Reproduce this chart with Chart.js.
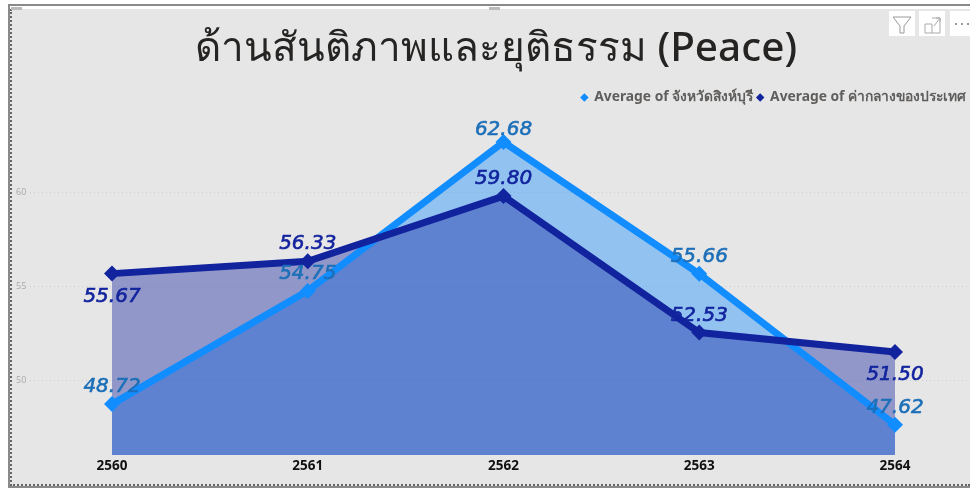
<!DOCTYPE html>
<html>
<head>
<meta charset="utf-8">
<script src="https://cdn.jsdelivr.net/npm/chart.js@4"></script>
<style>
  html, body { margin: 0; padding: 0; background: #fff; overflow: hidden; }
  #frame { position: absolute; left: 8px; top: 4px; width: 962px; height: 484px; box-sizing: border-box;
           border-top: 2px solid #8a8a8a; border-left: 2px solid #8a8a8a; border-bottom: 2px solid #8a8a8a; }
  #panel { position: absolute; left: 10px; top: 9px; width: 960px; height: 477px; background: #e6e6e6;
           border-left: 2px dotted #666; border-bottom: 2px dotted #666; box-sizing: border-box; }
  canvas { position: absolute; left: 0; top: 0; }
  .btn { position: absolute; top: 11px; height: 25px; background: #fff; }
  .btn svg { display: block; }
  .handle { position: absolute; top: 7px; height: 3px; background: #bbb; }
</style>
</head>
<body>
<div id="frame"></div>
<div id="panel"></div>
<div class="handle" style="left:11px;width:11px"></div>
<div class="handle" style="left:489px;width:11px"></div>
<canvas id="peaceChart" width="970" height="488"></canvas>
<div class="btn" style="left:889px;width:26px"><svg width="26" height="25"><path d="M4 6h18l-7 9v7l-4 0v-7z" fill="none" stroke="#999"/></svg></div>
<div class="btn" style="left:919px;width:26px"><svg width="26" height="25"><path d="M6 13v9h15v-15h-8M6 13h7v9M15 15l6-8M17 7h4v4" fill="none" stroke="#aaa"/></svg></div>
<div class="btn" style="left:950px;width:20px"><svg width="20" height="25"><g fill="#777"><circle cx="6" cy="13" r="1"/><circle cx="12" cy="13" r="1"/><circle cx="18" cy="13" r="1"/></g></svg></div>
<script>
const years = [2560, 2561, 2562, 2563, 2564];
const yTicks = [50, 55, 60];
const singburi = [48.72, 54.75, 62.68, 55.66, 47.62];
const national = [55.67, 56.33, 59.80, 52.53, 51.50];
const titleText = 'ด้านสันติภาพและยุติธรรม (Peace)';
const singburiName = 'Average of จังหวัดสิงห์บุรี';
const nationalName = 'Average of ค่ากลางของประเทศ';

// label offset from each point, px
const singburiLabelShift = [-17, -17, -12, -17, -17];
const nationalLabelShift = [23, -17, -17, -17, 23];

const thaiFont = '"Noto Sans", "Open Sans", sans-serif';

function toPoints(values) {
  return values.map((v, i) => ({ x: years[i], y: v }));
}

// value labels, no datalabels plugin available here
const valueLabels = {
  id: 'valueLabels',
  afterDatasetsDraw(chart) {
    const ctx = chart.ctx;
    ctx.save();
    ctx.font = 'italic 20px "DejaVu Sans"';
    ctx.textAlign = 'center';
    ctx.textBaseline = 'middle';
    ctx.lineWidth = 0.6;
    chart.data.datasets.forEach((ds, d) => {
      chart.getDatasetMeta(d).data.forEach((pt, i) => {
        const text = ds.data[i].y.toFixed(2);
        ctx.fillStyle = ds.labelColor;
        ctx.strokeStyle = ds.labelColor;
        ctx.fillText(text, pt.x, pt.y + ds.labelShift[i]);
        ctx.strokeText(text, pt.x, pt.y + ds.labelShift[i]);
      });
    });
    ctx.restore();
  }
};

new Chart(document.getElementById('peaceChart'), {
  type: 'line',
  data: {
    datasets: [{
      label: singburiName,
      data: toPoints(singburi),
      borderColor: '#118dff',
      backgroundColor: 'rgba(17, 141, 255, 0.4)',
      pointBackgroundColor: '#118dff',
      pointBorderColor: '#118dff',
      labelColor: '#1c6fb8',
      labelShift: singburiLabelShift,
      order: 2
    }, {
      label: nationalName,
      data: toPoints(national),
      borderColor: '#12239e',
      backgroundColor: 'rgba(18, 35, 158, 0.4)',
      pointBackgroundColor: '#12239e',
      pointBorderColor: '#12239e',
      labelColor: '#12239e',
      labelShift: nationalLabelShift,
      order: 1
    }]
  },
  options: {
    responsive: false,
    animation: false,
    layout: { autoPadding: false, padding: { left: 22, right: 0, top: 25, bottom: 0 } },
    elements: {
      line: { borderWidth: 7, tension: 0, fill: 'start' },
      point: { pointStyle: 'rectRot', radius: 8, borderWidth: 0 }
    },
    plugins: {
      filler: { drawTime: 'beforeDatasetsDraw' },
      title: {
        display: true,
        text: titleText,
        color: '#252423',
        font: { family: thaiFont, size: 40.5, weight: '500' },
        padding: { top: 0, bottom: 13 }
      },
      legend: {
        align: 'end',
        labels: {
          usePointStyle: true,
          pointStyle: 'rectRot',
          boxWidth: 6,
          boxHeight: 6,
          color: '#605e5c',
          font: { family: thaiFont, size: 13.8, weight: 'bold' },
          padding: 4,
          sort: (a, b) => a.datasetIndex - b.datasetIndex
        }
      },
      tooltip: { enabled: false }
    },
    scales: {
      x: {
        type: 'linear',
        min: 2559.581,
        max: 2564.383,
        afterBuildTicks(axis) { axis.ticks = years.map(v => ({ value: v })); },
        afterFit(axis) { axis.height = 33; },
        grid: { display: false, tickLength: 0 },
        border: { display: false },
        ticks: {
          autoSkip: false,
          maxRotation: 0,
          color: '#111',
          padding: 3,
          font: { family: '"Open Sans"', size: 13.5, weight: 'bold' },
          callback: v => String(v)
        }
      },
      y: {
        min: 46.01,
        max: 64.15,
        afterBuildTicks(axis) { axis.ticks = yTicks.map(v => ({ value: v })); },
        afterFit(axis) { axis.width = 8; },
        grid: { color: '#cdcdcd', tickLength: 0, drawTicks: false, lineWidth: 1 },
        border: { display: false, dash: [1, 3] },
        // mirror stops the labels being clipped to the narrow axis box
        ticks: { mirror: true, color: '#a8a8a8', padding: -14, font: { family: '"Open Sans"', size: 9 } }
      }
    }
  },
  plugins: [valueLabels]
});
</script>
</body>
</html>
